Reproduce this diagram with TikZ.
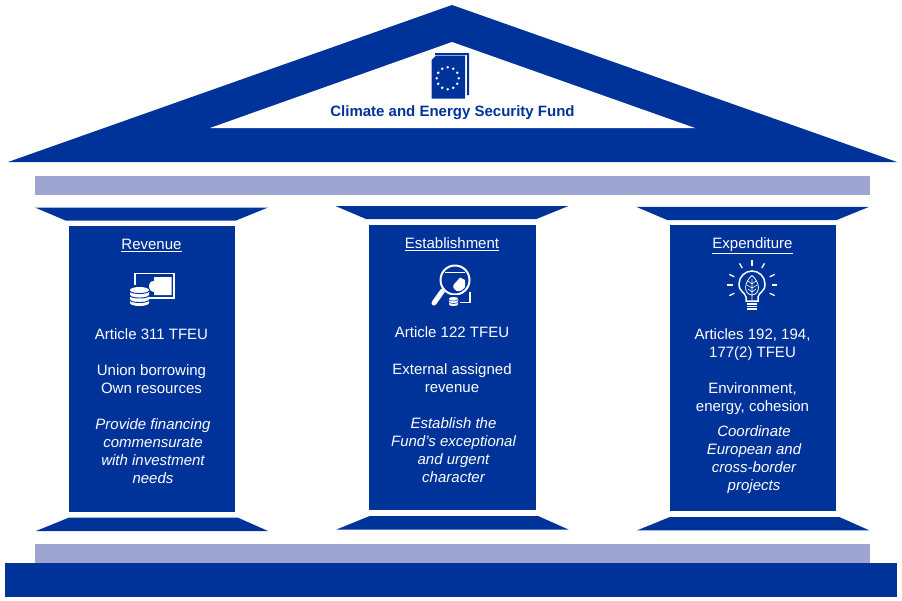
\documentclass[tikz,border=0pt]{standalone}
\usepackage{fontspec}
\setmainfont{Liberation Sans}
\definecolor{fundblue}{HTML}{003399}
\definecolor{barblue}{HTML}{9DA5D0}
\begin{document}
\begin{tikzpicture}[
  x=1pt, y=-1pt,
  solid blue/.style={fill=fundblue, draw=none},
  bar/.style={fill=barblue, draw=none},
  head/.style={text=white, font=\fontsize{15}{17}\selectfont, inner sep=0pt, anchor=base},
  body/.style={text=white, font=\fontsize{15}{18}\selectfont, align=center, inner sep=0pt},
  slant/.style={text=white, font=\fontsize{15}{18}\selectfont\itshape, align=center, inner sep=0pt},
  icon/.style={draw=white, line width=1.5pt, fill=none},
  icon fill/.style={fill=white, draw=none}
]
  \useasboundingbox (0,0) rectangle (902,600);

  % roof
  \fill[solid blue] (452,5) -- (897,162) -- (8,162) -- cycle;
  \fill[white] (452,42) -- (695,128) -- (210,128) -- cycle;

  % bars and plinth
  \fill[bar] (35,176) rectangle (870,195);
  \fill[bar] (35,544) rectangle (870,563);
  \fill[solid blue] (5,563) rectangle (897,597);

  % columns
  \foreach \cx/\cy in {0/0, 300.5/-1.5, 601.2/-0.7} {
    \begin{scope}[shift={(\cx,\cy)}]
      \fill[solid blue] (35,207.5) -- (268,207.5) -- (235.5,220.7) -- (66,220.7) -- cycle;
      \fill[solid blue] (68.7,226) rectangle (235,511.5);
      \fill[solid blue] (68.7,517.7) -- (238,517.7) -- (268,531) -- (36,531) -- cycle;
    \end{scope}
  }

  % book
  \fill[solid blue] (435,53) -- (469,53) -- (469,95) -- (467,95) -- (467,55) -- (435,55) -- cycle;
  \fill[solid blue] (436,55.5) -- (465,55.5) -- (465,98.5) -- (431.7,98.5) -- (431.7,60) -- cycle;
  \foreach \a in {0,30,...,330}
    \fill[white] (447.7,78.3) ++(\a:11) circle (1.4);

  \node[font=\bfseries\fontsize{15}{17}\selectfont, text=fundblue, inner sep=0pt] (title) at (452.5,112.5) {Climate and Energy Security Fund};

  % revenue
  \node[head] (revenue) at (151.5,249.5) {\underline{Revenue}};
  \draw[icon] (135,273.5) rectangle (174,298);
  \fill[icon fill] (171.5,277) -- (171.5,295) -- (154,295) -- (154,292) .. controls (147,291) and (147,281) .. (154,281) -- (154,277) -- cycle;
  \fill[fundblue] (127,285) rectangle (149,308);
  \fill[icon fill] (130,290) arc (180:360:9.5 and 3) -- (149,303) arc (0:180:9.5 and 3) -- cycle;
  \foreach \dbline in {291,295.5,300}
    \draw[fundblue, line width=0.9pt] (130,\dbline) arc (180:0:9.5 and 2.5);
  \node[body] (rev a) at (151.5,334.5) {Article 311 TFEU};
  \node[body] (rev b) at (151.5,379.5) {Union borrowing\\Own resources};
  \node[slant] (rev c) at (153,451.5) {Provide financing\\commensurate\\with investment\\needs};

  % establishment
  \node[head] (establishment) at (452,248.5) {\underline{Establishment}};
  \draw[icon, line width=1.8pt] (470,291.7) -- (470,302.5) -- (458,302.5);
  \draw[icon, line width=2pt, fill=fundblue] (455,280) circle (14.5);
  \draw[white, line width=5pt, line cap=round] (442.5,291) -- (434,303);
  \draw[white, line width=1.2pt] (445,272.7) -- (465,272.7);
  \fill[icon fill] (460,277.5) -- (465,280) -- (465,287) .. controls (462,292) and (456,293) .. (453.5,288) .. controls (452,284) and (456,283) .. (457,281) -- cycle;
  \fill[fundblue] (447,295) rectangle (460,308);
  \fill[icon fill] (449,298.5) arc (180:360:4.5 and 1.5) -- (458,304.5) arc (0:180:4.5 and 1.5) -- cycle;
  \draw[fundblue, line width=0.5pt] (449,299.5) arc (180:0:4.5 and 1.5);
  \draw[fundblue, line width=0.5pt] (449,302) arc (180:0:4.5 and 1.5);
  \node[body] (est a) at (452,332.5) {Article 122 TFEU};
  \node[body] (est b) at (452,378.5) {External assigned\\revenue};
  \node[slant] (est c) at (453.5,450) {Establish the\\Fund’s exceptional\\and urgent\\character};

  % expenditure
  \node[head] (expenditure) at (752.5,248.5) {\underline{Expenditure}};
  \draw[icon] (746,301) -- (746,297) .. controls (745,292) and (739,292) .. (739,284) arc (180:360:13) .. controls (765,292) and (759,292) .. (758,297) -- (758,301) -- cycle;
  \fill[icon fill] (747,303) rectangle (757,309.5);
  \draw[fundblue, line width=0.5pt] (747,305) -- (757,305) (747,307.3) -- (757,307.3);
  \draw[white, line width=0.8pt] (752,275.5) .. controls (744,282) and (743,294) .. (752,295) .. controls (761,294) and (760,282) .. (752,275.5);
  \draw[white, line width=0.6pt] (752,279) -- (752,300) (752,284) -- (748,281) (752,284) -- (756,281) (752,288) -- (747,285) (752,288) -- (757,285) (752,292) -- (748,289) (752,292) -- (756,289);
  \foreach \a in {-155,-120,-90,-60,-25,0,25,180,155}
    \draw[white, line width=1.3pt] (752,285) ++(\a:19.5) -- ++(\a:5.5);
  \node[body] (exp a) at (752.5,344.5) {Articles 192, 194,\\177(2) TFEU};
  \node[body] (exp b) at (752.5,399) {Environment,\\energy, cohesion};
  \node[slant] (exp c) at (754,460) {Coordinate\\European and\\cross-border\\projects};
\end{tikzpicture}
\end{document}
